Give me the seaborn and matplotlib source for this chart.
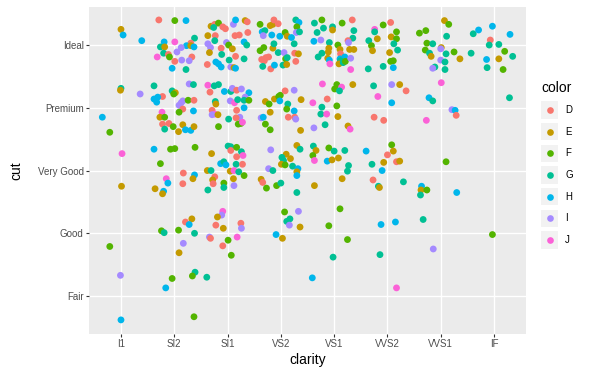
import matplotlib
matplotlib.use("Agg")
import matplotlib.pyplot as plt
from matplotlib.patches import Rectangle
from matplotlib.lines import Line2D
import pandas as pd
import seaborn as sns

clarity_levels = ["I1", "SI2", "SI1", "VS2", "VS1", "VVS2", "VVS1", "IF"]
cut_levels = ["Fair", "Good", "Very Good", "Premium", "Ideal"]
color_levels = ["D", "E", "F", "G", "H", "I", "J"]
palette_hex = ["#F8766D", "#C49A00", "#53B400", "#00C094", "#00B6EB", "#A58AFF", "#FB61D7"]

# jittered positions (clarity index 1..8, cut index 1..5)
x_left = [1.71, 2.01, 2.22, 1.00, 1.04, 1.39, 2.38, 1.81, 2.01, 2.31,
          2.23, 2.31, 2.37, 2.13, 1.74, 1.82, 2.05, 1.80, 1.89, 1.91,
          1.68, 2.33, 2.01, 2.14, 2.28, 1.96, 2.22, 1.00, 0.99, 1.62,
          1.36, 1.96, 2.02, 1.99, 1.78, 2.28, 2.36, 1.62, 1.69, 1.67,
          2.16, 2.13, 2.26, 2.37, 2.09, 2.16, 2.36, 2.09, 1.77, 0.65,
          1.73, 1.82,
          0.79, 1.78, 1.90, 1.82, 1.98, 2.16, 2.08, 2.21, 2.31, 2.37,
          1.02, 1.62, 1.93, 2.01, 2.39, 1.74, 2.17, 2.38, 2.35, 1.85,
          1.88, 2.16, 1.01, 1.64, 1.80, 1.78, 2.33, 2.21, 2.28,
          1.76, 1.81, 2.08, 2.38, 0.79, 2.17, 2.09, 2.39, 2.34, 0.99,
          1.96, 1.84, 1.00, 2.37]
y_left = [5.40, 5.39, 5.39, 5.25, 5.16, 5.07, 5.11, 5.05, 5.05, 5.03,
          4.99, 4.99, 4.97, 4.96, 4.97, 4.97, 4.89, 4.87, 4.85, 4.81,
          4.81, 4.81, 4.74, 4.76, 4.75, 4.63, 4.61, 4.31, 4.28, 4.35,
          4.22, 4.27, 4.24, 4.22, 4.18, 4.38, 4.37, 4.14, 4.17, 4.09,
          4.11, 4.08, 4.12, 4.12, 4.04, 3.98, 3.95, 3.93, 3.93, 3.85,
          3.85, 3.85,
          3.61, 3.74, 3.75, 3.66, 3.70, 3.73, 3.62, 3.65, 3.64, 3.70,
          3.27, 3.34, 3.34, 3.35, 3.37, 3.11, 2.96, 2.93, 2.87, 2.87,
          2.80, 2.79, 2.75, 2.71, 2.67, 2.63, 2.23, 2.18, 2.14,
          2.04, 2.01, 2.05, 2.00, 1.79, 1.84, 1.69, 1.38, 1.32, 1.33,
          1.28, 1.13, 0.62, 0.67]
c_left = list("DFHEHHGHJD" "HEHIGEIGDF" "JDDIIHGGEG" "IGEFDIGHHH" "IIFDIDHFJH" "EF"
              "FDDGFEEHHE" "JHFFFFDHEJ" "HDEEHEEDH"
              "FGFGFIEGFI" "FHHF")

x_mid = [2.69, 2.76, 2.83, 2.74, 2.91, 2.96, 3.11, 3.15, 3.33, 3.37,
         2.63, 2.77, 2.76, 2.63, 2.68, 2.66, 2.62, 2.88, 2.89, 2.98,
         3.02, 3.09, 3.15, 3.03, 2.78, 2.83, 2.88, 3.06, 3.12, 3.15,
         3.14, 3.22, 3.38, 3.31, 3.36, 3.31, 3.61, 3.80, 3.85, 3.87,
         3.95, 3.65, 3.70, 3.67, 3.83, 3.98, 4.08, 4.12, 4.20, 4.28,
         4.34, 4.30, 4.29, 4.35, 4.25, 3.68, 3.61, 3.85, 3.87, 3.95,
         4.06, 4.09, 4.12, 4.26, 4.33, 3.64, 3.72, 3.77, 3.69, 3.66,
         3.81, 3.88, 4.04, 4.11, 4.28, 2.63, 2.67, 2.75, 2.83, 2.77,
         2.78, 2.94, 3.06, 3.09, 3.17, 3.26, 3.40, 3.05, 3.13, 3.19,
         3.33, 3.31, 3.40, 3.31, 3.17, 2.71, 2.76, 2.71, 2.82, 3.02,
         3.23, 3.16, 3.71, 3.78, 3.88, 3.96, 3.99, 4.08, 4.25, 4.13,
         4.11, 3.98, 4.38, 3.80, 4.25, 3.63, 3.67, 4.14, 4.26, 4.28,
         3.20, 3.25, 3.28, 2.83, 3.71, 3.80, 4.37, 3.01, 3.06, 3.06,
         3.17, 2.70, 3.26, 3.29, 3.17, 3.81, 4.30, 4.36, 4.10, 4.02,
         4.05, 4.18, 2.87, 2.93, 2.97, 3.16, 3.28, 2.62, 2.69, 3.05,
         3.12, 3.21, 3.31, 2.76, 2.72, 2.73, 3.11, 2.93, 2.93, 3.12,
         2.63, 3.77, 3.85, 4.01, 4.08, 4.22, 4.32, 4.30, 4.30, 3.63,
         3.66, 3.73, 3.92, 4.00, 4.30, 2.91, 2.89, 2.81, 2.78, 3.25,
         3.26, 2.92, 4.07, 4.33, 4.11, 4.17, 4.16, 4.36,
         2.66, 2.68, 3.01, 3.18, 2.91, 3.07, 2.61, 3.91, 4.03]
y_mid = [5.30, 5.33, 5.35, 5.28, 5.29, 5.26, 5.33, 5.40, 5.39, 5.37,
         5.15, 5.15, 5.07, 5.02, 4.96, 4.88, 4.69, 4.95, 4.85, 5.04,
         5.00, 4.94, 4.82, 4.76, 4.73, 4.70, 4.65, 4.65, 4.64, 4.63,
         5.15, 5.16, 5.20, 5.05, 5.00, 4.78, 5.33, 5.31, 5.33, 5.40,
         5.34, 5.21, 5.23, 5.15, 5.16, 5.14, 5.20, 5.14, 5.12, 5.40,
         5.36, 5.29, 5.20, 5.21, 5.02, 4.96, 4.91, 4.95, 5.02, 4.88,
         4.88, 4.78, 4.80, 4.87, 4.86, 4.77, 4.80, 4.81, 4.75, 4.66,
         4.62, 4.68, 4.68, 4.69, 4.74, 4.36, 4.25, 4.35, 4.37, 4.10,
         4.06, 4.26, 4.26, 4.31, 4.28, 4.30, 4.24, 4.11, 4.08, 4.13,
         4.17, 4.12, 4.12, 4.00, 3.96, 3.96, 3.90, 3.89, 3.89, 3.82,
         3.85, 3.84, 4.10, 4.06, 4.14, 4.18, 4.20, 4.27, 4.28, 4.06,
         3.98, 4.11, 4.13, 3.93, 3.95, 3.84, 3.85, 3.85, 3.85, 3.82,
         3.74, 3.75, 3.77, 3.70, 3.74, 3.65, 3.64, 3.39, 3.38, 3.32,
         3.37, 3.27, 3.30, 3.24, 3.22, 3.33, 3.40, 3.34, 3.26, 3.21,
         3.16, 3.19, 3.11, 3.14, 3.09, 3.10, 3.10, 3.00, 3.00, 2.99,
         3.00, 2.98, 2.92, 2.90, 2.85, 2.79, 2.87, 2.80, 2.73, 2.76,
         2.69, 3.03, 3.00, 3.10, 3.09, 3.07, 3.03, 2.98, 2.92, 2.86,
         2.81, 2.72, 2.76, 2.80, 2.65, 2.35, 2.29, 2.26, 2.13, 2.16,
         2.08, 2.08, 2.34, 2.35, 2.19, 2.23, 2.13, 2.10,
         1.94, 1.92, 1.89, 1.94, 1.80, 1.65, 1.30, 1.98, 1.92]
c_mid = list("EDFGDDIHED" "EDGIIEDDGI" "FEDGHHHIEH" "DDDHGGFEED"
             "DHGIHHFEHG" "HFIGGFFEGG" "IFGDEDDDDG" "DHGEDJDGGG"
             "EHGIDIHIJG" "IGFHDDJIEG" "IDEFEFFDIG" "FHEEHIHDDI"
             "FFJFFFEGGD" "FEGJDIEGEG" "GEHGHGDEGE" "JGFDEDEFGI"
             "GIGEFGHEHE" "DFFGGJIEDD" "IEFIGGIE"
             "IDFJDFGHE")

x_right = [4.63, 4.77, 4.68, 4.80, 4.97, 4.97, 5.15, 5.34, 5.37, 4.62,
           4.75, 4.91, 5.35, 5.26, 5.27, 4.90, 4.89, 4.70, 4.77, 5.07,
           5.11, 4.88, 4.91, 4.92, 5.12, 5.20, 5.11, 5.12, 5.09, 5.17,
           5.21, 5.29, 5.37, 5.31, 5.31, 5.65, 5.70, 5.81, 5.72, 5.64,
           5.76, 5.76, 5.92, 6.06, 6.07, 6.17, 6.17, 6.12, 6.19, 6.04,
           6.06, 6.11, 5.92, 6.11, 4.78, 5.05, 5.01, 5.14, 5.10, 5.35,
           5.74, 5.82, 6.08, 6.23, 6.35, 6.08, 4.87, 4.60, 4.77, 5.05,
           4.75, 4.86, 5.07, 5.75, 5.93,
           4.83, 4.62, 5.26, 5.30, 4.61, 4.66, 4.60, 4.63, 4.90, 5.00,
           5.20, 4.87, 4.96, 5.08, 5.27, 5.25, 5.15, 4.63, 5.60, 6.08,
           6.11, 6.00, 5.93, 6.17, 6.23, 5.71, 5.90, 5.73, 5.83, 5.85,
           6.30, 5.11, 4.90, 5.88, 6.15,
           5.25, 4.98, 5.86, 6.17, 4.59]
y_right = [5.35, 5.40, 5.20, 5.27, 5.29, 5.24, 5.35, 5.40, 5.23, 5.06,
           5.08, 5.04, 5.11, 5.07, 5.04, 4.95, 4.89, 4.81, 4.87, 5.00,
           4.93, 4.79, 4.76, 4.70, 4.86, 4.81, 4.78, 4.75, 4.70, 4.72,
           4.74, 4.93, 4.93, 4.79, 4.61, 5.07, 4.99, 5.10, 4.91, 4.62,
           5.25, 5.21, 5.32, 5.36, 5.13, 5.21, 5.10, 5.02, 4.92, 4.88,
           4.74, 4.75, 4.66, 4.64, 4.38, 4.37, 4.30, 4.33, 4.27, 4.37,
           4.35, 4.18, 4.37, 4.37, 4.27, 4.08, 4.14, 4.08, 4.01, 4.03,
           3.90, 3.90, 3.86, 3.85, 3.80,
           3.73, 3.68, 3.71, 3.66, 3.39, 3.32, 3.24, 3.16, 3.36, 3.31,
           3.32, 3.15, 3.17, 3.20, 3.08, 2.99, 2.87, 2.76, 3.31, 3.41,
           3.31, 3.25, 3.13, 3.14, 3.15, 3.10, 3.00, 2.85, 2.75, 2.73,
           2.82, 2.39, 2.12, 2.14, 2.18,
           1.90, 1.62, 1.66, 1.13, 1.29]
c_right = list("GFGGGEFDGH" "IGGDIEEGGF" "EEHJDHHGEG" "FEEIJGFEEG"
               "JGFDEFFGGE" "FFGHJFFJGE" "GJIEDHDJGF" "GJEDD"
               "GIEJGEFJFG" "GHEEGGEEHF" "EDEDEGHDGE" "GFFHH"
               "FGGJH")

x_far = [6.60, 6.72, 7.07, 7.15, 7.11, 6.74, 6.85, 6.71, 6.79, 6.82,
         7.01, 7.00, 7.10, 7.25, 7.36, 7.00, 7.08, 6.89, 6.85, 7.08,
         7.57, 7.61, 7.71, 7.97, 8.30, 7.93, 7.91, 8.09, 8.20, 8.35,
         7.86, 8.09, 7.87, 8.17, 7.01, 6.78, 6.85, 8.29, 7.21, 7.27,
         7.29, 6.73, 7.10, 6.64, 6.63, 6.74, 6.62, 7.30, 6.67, 6.86,
         7.97]
y_far = [5.19, 5.23, 5.39, 5.33, 5.14, 5.03, 5.02, 4.92, 4.87, 4.82,
         4.96, 4.94, 4.86, 4.89, 4.78, 4.76, 4.73, 4.65, 4.63, 4.61,
         4.87, 5.18, 5.24, 5.30, 5.17, 5.08, 5.00, 5.01, 4.90, 4.82,
         4.77, 4.78, 4.64, 4.61, 4.40, 4.16, 4.11, 4.16, 3.97, 3.96,
         3.88, 3.80, 3.14, 2.75, 2.69, 2.69, 2.61, 2.65, 2.22, 1.75,
         1.98]
c_far = list("FFEFGFGFGE" "EIGFEIGGIG" "GGHHHDGGFG" "HEGFJHGGIH"
             "DJFHEFGHGI" "F")

df = pd.DataFrame({
    "clarity": x_left + x_mid + x_right + x_far,
    "cut": y_left + y_mid + y_right + y_far,
    "color": c_left + c_mid + c_right + c_far,
})

palette = dict(zip(color_levels, palette_hex))

W, H = 600, 375
fig = plt.figure(figsize=(6, 3.75), dpi=100)
plt.rcParams["font.family"] = ["Liberation Sans", "DejaVu Sans"]

ax_l, ax_r, ax_t, ax_b = 89, 526, 7.4, 333.7
ax = fig.add_axes([ax_l / W, 1 - ax_b / H, (ax_r - ax_l) / W, (ax_b - ax_t) / H])
ax.set_facecolor("#EBEBEB")

sns.scatterplot(data=df, x="clarity", y="cut", hue="color", hue_order=color_levels,
                palette=palette, s=24, linewidth=0, legend=False, ax=ax, zorder=3)

ax.set_xlim(0.4, 8.6)
ax.set_ylim(0.4, 5.6)
ax.set_xticks(range(1, len(clarity_levels) + 1))
ax.set_xticklabels(clarity_levels, fontfamily="Liberation Sans")
ax.set_yticks(range(1, len(cut_levels) + 1))
ax.set_yticklabels(cut_levels, fontfamily="Liberation Sans")
ax.grid(True, color="white", linewidth=1.0, zorder=0)
ax.set_axisbelow(True)
for s in ax.spines.values():
    s.set_visible(False)
ax.tick_params(axis="both", length=2.0, width=0.8, color="#333333",
               labelcolor="#4D4D4D", labelsize=7.0, pad=1.8)

ax.set_xlabel("clarity", fontsize=10.0, color="black")
ax.set_ylabel("cut", fontsize=10.0, color="black")
ax.xaxis.label.set_verticalalignment("center")
ax.xaxis.set_label_coords(0.5, (ax_b - 360) / (ax_b - ax_t))
ax.yaxis.label.set_verticalalignment("center")
ax.yaxis.set_label_coords((16 - ax_l) / (ax_r - ax_l), 0.5)

# legend
fig.text(541 / W, 1 - 88 / H, "color", fontsize=10.0, ha="left", va="center")
for i, (lab, col) in enumerate(zip(color_levels, palette_hex)):
    cy = 110 + i * 21.67
    fig.add_artist(Rectangle(((541) / W, 1 - (cy + 8.6) / H), 17.3 / W, 17.3 / H,
                             transform=fig.transFigure, facecolor="#F2F2F2",
                             edgecolor="none"))
    fig.add_artist(Line2D([549.6 / W], [1 - cy / H], marker="o", markersize=4.8,
                          markerfacecolor=col, markeredgewidth=0,
                          linestyle="none", transform=fig.transFigure))
    fig.text(565 / W, 1 - cy / H, lab, fontsize=7.0, ha="left", va="center")

fig.savefig("out.png", dpi=100)
